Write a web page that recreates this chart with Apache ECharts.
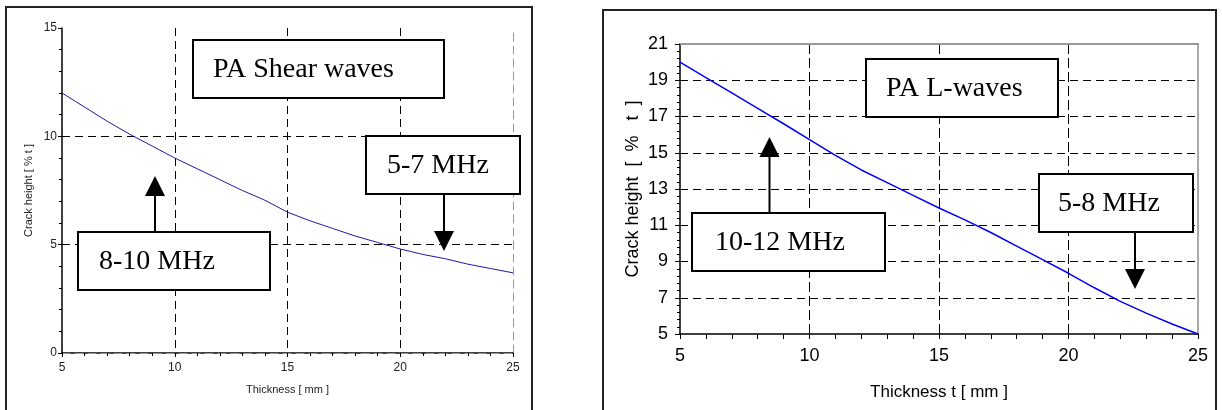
<!DOCTYPE html>
<html>
<head>
<meta charset="utf-8">
<script src="https://cdn.jsdelivr.net/npm/echarts@6/dist/echarts.min.js"></script>
<style>
  html, body { margin: 0; padding: 0; background: #fff; }
  #chart { width: 1222px; height: 410px; }
</style>
</head>
<body>
<div id="chart"></div>
<script>
// thickness values (mm) shared by both curves
const thickness = [5, 6, 7, 8, 9, 10, 11, 12, 13, 14, 15, 16, 17, 18, 19, 20, 21, 22, 23, 24, 25];
// PA shear waves, crack height [% t]
const shearHeight = [12.0, 11.35, 10.7, 10.1, 9.55, 9.0, 8.5, 8.0, 7.5, 7.05, 6.5, 6.1, 5.75, 5.4, 5.1, 4.8, 4.55, 4.35, 4.1, 3.9, 3.7];
// PA L-waves, crack height [% t]
const lwaveHeight = [20.0, 19.15, 18.3, 17.45, 16.6, 15.72, 14.85, 14.05, 13.35, 12.65, 11.95, 11.3, 10.6, 9.85, 9.1, 8.35, 7.55, 6.8, 6.15, 5.55, 5.0];

// axis ranges / tick steps
const xTicks = [5, 10, 15, 20, 25];
const shearYTicks = [0, 5, 10, 15];
const lwaveYTicks = [5, 7, 9, 11, 13, 15, 17, 19, 21];

// annotation texts
const shearTitle = 'PA Shear waves';
const shearHigh = '8-10 MHz';
const shearLow = '5-7 MHz';
const lwaveTitle = 'PA L-waves';
const lwaveHigh = '10-12 MHz';
const lwaveLow = '5-8 MHz';

const myChart = echarts.init(document.getElementById('chart'));

const serif = '"Liberation Serif", "Times New Roman", serif';
const sans = '"Liberation Sans", Arial, sans-serif';

// box with text inside
function box(x, y, w, h, txt, tx, size) {
  return [
    { type: 'rect', z: 100, shape: { x: x, y: y, width: w, height: h },
      style: { fill: '#fff', stroke: '#000', lineWidth: 2 } },
    { type: 'text', z: 101, x: tx, y: y + h / 2 + 1,
      style: { text: txt, fill: '#000', font: size + 'px ' + serif, textAlign: 'left', textVerticalAlign: 'middle' } }
  ];
}
// vertical arrow, shaft y1..y2, triangle tip/base
function arrow(x, y1, y2, tipY, baseY) {
  return [
    { type: 'line', z: 100, shape: { x1: x, y1: y1, x2: x, y2: y2 }, style: { stroke: '#000', lineWidth: 2 } },
    { type: 'polygon', z: 100, shape: { points: [[x, tipY], [x - 10, baseY], [x + 10, baseY]] }, style: { fill: '#000' } }
  ];
}

const dashX = { show: true, lineStyle: { color: '#000', type: [8, 5], width: 1 }, showMaxLine: false, showMinLine: false };

const option = {
  animation: false,
  grid: [
    { left: 62, top: 28, width: 451, height: 325 },
    { left: 680, top: 44, width: 518, height: 290 }
  ],
  xAxis: [
    {
      gridIndex: 0, type: 'value', min: xTicks[0], max: xTicks[xTicks.length - 1], interval: 5,
      name: 'Thickness [ mm ]', nameLocation: 'middle', nameGap: 31,
      nameTextStyle: { fontFamily: sans, fontSize: 11, color: '#222' },
      axisLine: { lineStyle: { color: '#000', width: 1.5 } },
      axisTick: { length: 4, lineStyle: { color: '#000' } },
      minorTick: { show: true, splitNumber: 5, length: 3, lineStyle: { color: '#000' } },
      axisLabel: { fontFamily: sans, fontSize: 12, color: '#222', margin: 9 },
      splitLine: dashX
    },
    {
      gridIndex: 0, type: 'value', position: 'top', min: 5, max: 25,
      axisLine: { show: true, lineStyle: { color: '#999', type: [8, 5], width: 1 } },
      axisTick: { show: false }, axisLabel: { show: false }, splitLine: { show: false }
    },
    {
      gridIndex: 1, type: 'value', min: xTicks[0], max: xTicks[xTicks.length - 1], interval: 5,
      name: 'Thickness t [ mm ]', nameLocation: 'middle', nameGap: 50,
      nameTextStyle: { fontFamily: sans, fontSize: 17, color: '#000' },
      axisLine: { lineStyle: { color: '#000', width: 1.5 } },
      axisTick: { length: 5, lineStyle: { color: '#000' } },
      minorTick: { show: true, splitNumber: 5, length: 5, lineStyle: { color: '#000' } },
      axisLabel: { fontFamily: sans, fontSize: 18, color: '#000', margin: 13 },
      splitLine: { show: true, lineStyle: { color: '#000', type: [10, 4], width: 1 }, showMaxLine: false, showMinLine: false }
    },
    {
      gridIndex: 1, type: 'value', position: 'top', min: 5, max: 25,
      axisLine: { show: true, lineStyle: { color: '#999', width: 2 } },
      axisTick: { show: false }, axisLabel: { show: false }, splitLine: { show: false }
    }
  ],
  yAxis: [
    {
      gridIndex: 0, type: 'value', min: shearYTicks[0], max: shearYTicks[shearYTicks.length - 1], interval: 5,
      name: 'Crack height [ % t ]', nameLocation: 'middle', nameGap: 28,
      nameTextStyle: { fontFamily: sans, fontSize: 11, color: '#222' },
      axisLine: { show: true, lineStyle: { color: '#000', width: 1.5 } },
      axisTick: { show: true, length: 4, lineStyle: { color: '#000' } },
      minorTick: { show: true, splitNumber: 5, length: 3, lineStyle: { color: '#000' } },
      axisLabel: { fontFamily: sans, fontSize: 12, color: '#222', margin: 5 },
      splitLine: dashX
    },
    {
      gridIndex: 0, type: 'value', position: 'right', min: 0, max: 15,
      axisLine: { show: true, lineStyle: { color: '#999', type: [8, 5], width: 1 } },
      axisTick: { show: false }, axisLabel: { show: false }, splitLine: { show: false }
    },
    {
      gridIndex: 1, type: 'value', min: lwaveYTicks[0], max: lwaveYTicks[lwaveYTicks.length - 1], interval: 2,
      name: 'Crack height  [  %   t  ]', nameLocation: 'middle', nameGap: 38,
      nameTextStyle: { fontFamily: sans, fontSize: 18, color: '#000' },
      axisLine: { show: true, lineStyle: { color: '#000', width: 1.5 } },
      axisTick: { show: true, length: 5, lineStyle: { color: '#000' } },
      minorTick: { show: true, splitNumber: 5, length: 3, lineStyle: { color: '#000' } },
      axisLabel: { fontFamily: sans, fontSize: 18, color: '#000', margin: 12 },
      splitLine: { show: true, lineStyle: { color: '#000', type: [8, 5], width: 1 }, showMaxLine: false, showMinLine: false }
    },
    {
      gridIndex: 1, type: 'value', position: 'right', min: 5, max: 21,
      axisLine: { show: true, lineStyle: { color: '#aaa', width: 2 } },
      axisTick: { show: false }, axisLabel: { show: false }, splitLine: { show: false }
    }
  ],
  series: [
    {
      name: 'PA Shear waves', type: 'line', xAxisIndex: 0, yAxisIndex: 0,
      showSymbol: false, lineStyle: { color: '#1c1ca0', width: 1 },
      data: thickness.map((t, i) => [t, shearHeight[i]])
    },
    {
      name: 'PA L-waves', type: 'line', xAxisIndex: 2, yAxisIndex: 2,
      showSymbol: false, lineStyle: { color: '#0000ff', width: 1.5 },
      data: thickness.map((t, i) => [t, lwaveHeight[i]])
    }
  ],
  graphic: [
    // outer frames
    { type: 'rect', z: 90, shape: { x: 6, y: 7, width: 526, height: 430 }, style: { fill: 'none', stroke: '#222', lineWidth: 2 } },
    { type: 'rect', z: 90, shape: { x: 603, y: 10, width: 613, height: 430 }, style: { fill: 'none', stroke: '#222', lineWidth: 2 } },
    // left chart notes
    ...box(193, 40, 251, 58, shearTitle, 213, 28),
    ...box(366, 136, 154, 58, shearLow, 387, 28),
    ...box(78, 232, 192, 58, shearHigh, 99, 28),
    ...arrow(155, 232, 196, 176, 196),
    ...arrow(444, 194, 231, 251, 231),
    // right chart notes
    ...box(866, 59, 192, 58, lwaveTitle, 886, 28),
    ...box(1039, 174, 154, 58, lwaveLow, 1058, 28),
    ...box(692, 213, 193, 58, lwaveHigh, 715, 28),
    ...arrow(769.5, 213, 157, 137, 157),
    ...arrow(1135, 232, 269, 289, 269)
  ]
};

myChart.setOption(option);
window.addEventListener('resize', () => myChart.resize());
</script>
</body>
</html>
